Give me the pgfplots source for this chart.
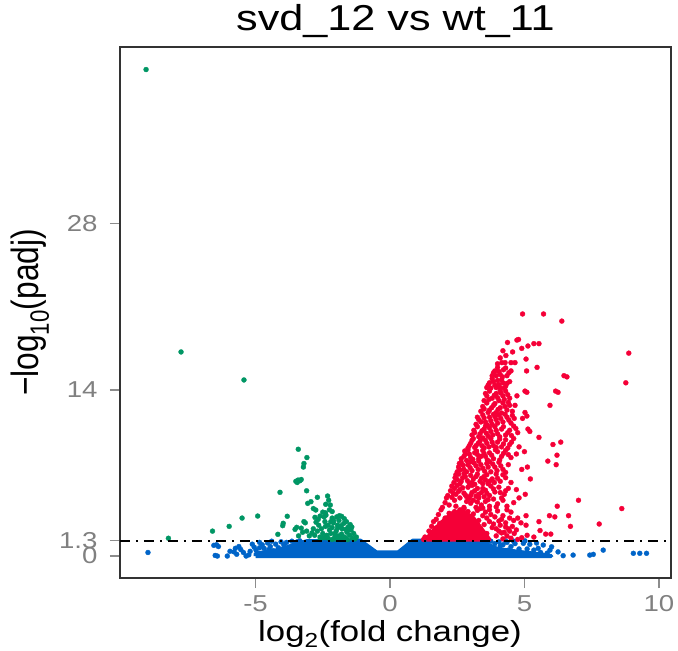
\documentclass[border=0pt]{standalone}
\usepackage{pgfplots}
\pgfplotsset{compat=1.18}
\usepackage{fontspec}
\setmainfont{Liberation Sans}
\newfontfamily\wide[FakeStretch=1.2]{Liberation Sans}
\newfontfamily\narrow[FakeStretch=0.833]{Liberation Sans}
\definecolor{upred}{RGB}{245,0,55}
\definecolor{dngreen}{RGB}{0,150,100}
\definecolor{nsblue}{RGB}{0,100,200}
\pgfplotsset{pt/.style={only marks, color=#1, mark=*, mark size=2.5pt, mark options={solid, draw=#1, fill=#1, line width=0.3pt}}}
\begin{document}
\begin{tikzpicture}
\path[use as bounding box] (-120pt,-73pt) rectangle (558pt,578pt);
\begin{axis}[
 scale only axis, width=551pt, height=531pt,
 xmin=-10.04, xmax=10.45, ymin=-1.85, ymax=42.9,
 xtick={-5,0,5,10},
 ytick={0,1.3,14,28},
 xticklabels={-5,0,5,10},
 yticklabels={0,1.3,14,28},
 /pgf/number format/assume math mode=true,
 tick align=outside, tick pos=left,
 major tick length=10pt,
 every tick/.style={black!45, line width=1.4pt},
 axis line style={black!80, line width=1.6pt},
 tick label style={font=\wide\fontsize{23}{23}\selectfont, text=black!50},
 xticklabel style={yshift=-4pt},
 yticklabel style={xshift=-9pt},
 title={svd\_12 vs wt\_11},
 title style={font=\wide\fontsize{36}{36}\selectfont, at={(axis description cs:0.5,1.019)}, anchor=base},
 xlabel={log\textsubscript{2}(fold change)},
 xlabel style={font=\wide\fontsize{29}{29}\selectfont, at={(axis description cs:0.49,-0.1205)}, anchor=base},
 ylabel={−log\textsubscript{10}(padj)},
 ylabel style={font=\narrow\fontsize{38}{38}\selectfont, at={(axis description cs:-0.163,0.5)}, anchor=center},
 clip marker paths=true,
]
% blue dense core (not significant)
\addplot[draw=nsblue, fill=nsblue, line width=4pt, line join=round] coordinates {
(-5.0,0) (6.0,0) (5.6,0.15) (4.8,0.35) (4.0,0.6) (3.6,1.0) (3.1,1.3) (0.85,1.3) (0.3,0.3) (-0.5,0.3) (-1.1,1.3) (-3.1,1.25) (-3.6,0.9) (-4.2,0.5) (-5.0,0.2) (-5.0,0)};
\addplot[pt=nsblue] coordinates {
(-9.0,0.3) (-6.55,0.9) (-6.45,0.95) (-6.38,0.8) (-6.5,0.05) (-6.42,0.0) (-5.95,0.4) (-5.75,0.65) (-5.62,0.8) (-5.55,0.55) (-5.35,0.0) (-5.25,0.1) (-5.12,1.0) (-5.05,0.75) (-4.98,0.5) (-4.75,0.95) (-4.68,0.65) (-4.55,1.1) (-4.45,0.8) (-4.35,0.45) (-4.25,1.0) (-4.15,0.7) (-4.05,1.2) (-3.95,0.95) (-3.85,1.15) (-3.75,0.75) (-3.65,1.25) (-3.55,1.05) (-3.45,1.2) (-3.35,1.28) (-3.25,1.1) (-4.6,0.3) (-4.9,0.1) (-5.7,0.15)
(-4.85,0.7) (-4.5,0.55) (-4.3,0.2) (-4.0,0.4) (-3.8,0.45) (-5.2,0.4) (-4.85,1.15) (-4.4,1.25) (-3.9,0.2) (-5.45,0.3) (-6.05,0.0) (-5.8,0.35)
(3.3,1.2) (3.45,1.25) (3.6,1.15) (3.75,1.25) (3.9,1.05) (4.05,1.2) (4.2,0.95) (4.35,1.15) (4.5,0.8) (4.65,1.05) (4.8,0.6) (4.96,1.07) (5.02,1.28) (5.2,0.99) (5.35,0.5) (5.51,0.65) (5.7,0.93) (5.95,0.5) (6.01,0.78) (6.44,0.03) (6.81,0.08) (7.43,0.08) (7.56,0.14) (7.93,0.5) (9.05,0.23) (9.29,0.23) (9.54,0.23) (4.4,0.5) (4.7,0.3) (5.1,0.6) (5.6,0.3) (4.1,0.85) (3.85,0.7)
(3.5,0.6) (3.7,0.4) (4.0,0.45) (4.25,0.35) (4.55,0.15) (4.9,0.2) (5.25,0.15) (5.45,1.1) (5.85,0.25) (6.25,0.35) (4.6,1.25) (4.3,1.28)
(10.5,0.3) (10.5,0.7) (10.5,1.0) (-10.1,0.2) (-10.1,0.6) (-10.1,1.0)};
% green (down-regulated)
\addplot[pt=dngreen] coordinates {
(-9.07,41.0) (-7.77,17.2) (-5.43,14.84) (-8.24,1.5) (-6.6,2.1) (-5.98,2.5) (-5.5,3.2) (-4.92,3.37) (-4.09,5.37)
(-3.41,9.0) (-3.09,8.3) (-3.2,7.8) (-3.22,7.5) (-3.5,6.3) (-3.42,6.4) (-3.35,6.35) (-3.45,6.2) (-3.3,6.45) (-3.1,5.5)
(-2.7,4.95) (-2.32,5.06) (-2.28,4.7) (-3.06,4.44) (-2.94,4.58) (-2.39,4.36) (-2.22,4.3) (-2.85,4.0) (-2.76,3.88)
(-2.5,3.7) (-2.4,3.65) (-2.15,3.75) (-2.25,3.9) (-2.79,3.26) (-2.67,3.09) (-2.6,3.37) (-2.45,3.3) (-2.42,2.9) (-2.38,3.45)
(-1.98,3.3) (-1.88,3.4) (-2.2,2.9) (-2.1,3.0) (-3.82,3.35) (-3.97,2.76) (-3.99,2.56) (-3.2,2.9) (-3.15,2.8) (-3.53,2.25)
(-3.47,2.42) (-4.17,1.83) (-3.4,1.7) (-3.0,1.7) (-2.8,1.75) (-2.6,1.6) (-3.25,2.0) (-3.1,2.1)
(-2.3,1.5) (-2.2,1.9) (-2.15,2.4) (-2.05,1.6) (-2.0,2.1) (-1.95,2.6) (-1.9,3.0) (-1.85,1.45) (-1.8,1.85) (-1.78,2.3)
(-1.72,2.75) (-1.65,1.55) (-1.6,2.0) (-1.55,2.45) (-1.5,1.75) (-1.45,2.2) (-1.4,1.5) (-1.35,1.9) (-1.3,1.45) (-1.7,3.15)
(-1.62,2.9) (-2.1,2.8) (-2.25,2.2) (-2.4,2.5) (-2.5,1.9) (-2.55,2.3) (-2.7,2.1) (-2.45,1.55) (-1.9,1.7) (-1.7,1.4)
(-2.15,1.4) (-2.6,1.4) (-2.35,1.75) (-1.58,1.38) (-1.48,2.65) (-1.82,2.55) (-2.0,1.42) (-1.25,1.6)
(-2.05,1.9) (-1.75,1.65) (-1.55,2.2) (-1.95,2.35) (-2.3,2.6) (-2.15,3.2) (-1.8,3.35) (-2.65,2.6) (-2.85,2.3) (-2.9,1.95) (-3.3,2.35) (-2.75,2.85) (-1.42,2.45) (-1.65,2.25)
(-10.1,23.7) (-10.1,21.9) (-10.1,20.1) (-10.1,6.8) (-10.1,5.3) (-10.1,3.2)};
% red dense core (up-regulated)
\addplot[draw=upred, fill=upred, line width=4pt, line join=round] coordinates {
(1.35,1.38) (3.7,1.38) (3.4,2.3) (3.1,3.2) (2.7,3.8) (2.3,3.6) (1.9,2.8) (1.55,2.0) (1.35,1.38)};
\addplot[pt=upred] coordinates {
(4.2,1.45) (4.35,1.7) (4.5,1.5) (4.62,1.9) (4.75,1.4) (4.9,1.55) (5.1,1.75) (5.35,1.6) (5.58,2.15) (5.79,1.85) (5.98,1.85) (1.25,1.4) (1.3,1.6) (4.25,2.0) (4.4,2.3) (4.15,1.95)
(1.45,2.1) (1.55,2.5) (1.62,2.9) (3.95,2.3) (4.1,2.6) (4.3,2.8) (4.05,2.95) (4.55,2.5) (4.7,2.2) (4.87,2.8) (5.06,2.6) (5.54,2.9) (6.71,2.5) (7.78,2.7) (3.85,2.7) (4.45,2.1)
(1.72,3.1) (1.8,3.5) (1.9,3.9) (3.6,3.2) (3.75,3.5) (3.9,3.3) (4.0,3.8) (4.2,3.4) (4.35,3.9) (4.5,3.7) (4.15,3.1) (3.7,3.9) (5.06,3.4) (5.93,3.4) (6.13,3.3) (6.64,3.4) (8.62,4.0) (4.75,3.2)
(3.6,1.9) (3.8,2.4) (3.5,2.65) (3.3,3.0) (3.45,3.4) (3.1,3.55) (2.9,3.75) (2.6,3.9) (2.4,3.75) (2.2,3.6) (2.05,3.2) (1.85,2.75) (1.7,2.35) (1.5,1.75) (3.95,1.7) (4.05,2.1) (3.25,3.85) (2.75,4.0) (3.55,3.7) (3.35,4.0) (2.0,2.7) (3.7,2.9) (4.3,2.45) (4.45,3.2) (4.6,3.0)
(1.95,4.1) (2.05,4.5) (2.1,4.9) (3.2,4.1) (3.4,4.3) (3.55,4.6) (3.7,4.2) (3.85,4.8) (4.0,4.4) (4.2,4.7) (4.35,4.2) (3.1,4.7) (2.6,4.9) (2.85,4.6) (4.6,4.5) (6.22,4.2) (7.01,4.7) (4.8,4.9) (3.3,4.9) (2.4,4.7)
(2.2,4.3) (2.45,4.2) (2.75,4.1) (3.0,4.45) (3.25,4.55) (3.45,4.05) (3.65,4.75) (3.95,4.15) (4.15,4.9) (2.3,4.95) (2.95,4.85)
(2.15,5.1) (2.25,5.5) (2.3,5.9) (2.45,5.2) (2.6,5.6) (2.75,5.3) (2.9,5.8) (3.0,5.1) (3.15,5.5) (3.3,5.2) (3.45,5.7) (3.6,5.3) (3.75,5.9) (3.9,5.4) (4.05,5.8) (4.25,5.2) (2.5,5.95) (3.05,5.95) (5.03,5.2) (4.7,5.6) (3.5,5.0) (2.85,5.0) (4.4,5.7)
(2.35,5.3) (2.55,5.45) (2.7,5.75) (2.8,5.15) (3.05,5.35) (3.25,5.7) (3.4,5.35) (3.55,5.55) (3.7,5.1) (3.85,5.65) (4.1,5.35) (4.3,5.5) (2.4,5.7) (3.2,5.05)
(2.38,6.2) (2.42,6.6) (2.55,6.9) (2.65,6.3) (2.8,6.7) (2.95,6.1) (3.1,6.5) (3.25,6.9) (3.35,6.3) (3.5,6.7) (3.65,6.1) (3.8,6.5) (3.95,6.9) (4.1,6.3) (4.3,6.6) (2.75,6.95) (3.0,6.8) (3.55,6.4) (5.22,6.5) (4.5,6.2)
(2.5,6.45) (2.6,6.1) (2.7,6.6) (2.88,6.35) (3.05,6.2) (3.2,6.7) (3.4,6.55) (3.45,6.1) (3.6,6.85) (3.7,6.3) (3.88,6.2) (4.0,6.55) (4.2,6.85) (2.45,6.85) (3.15,6.05)
(2.5,7.1) (2.55,7.5) (2.65,7.9) (2.75,7.3) (2.9,7.7) (3.05,7.2) (3.2,7.6) (3.3,8.0) (3.45,7.4) (3.6,7.8) (3.75,7.1) (3.9,7.5) (4.05,7.9) (4.2,7.3) (4.4,7.7) (3.0,7.95) (3.7,7.95) (5.11,7.5) (4.9,7.3) (5.87,8.0) (6.18,7.7)
(2.6,7.25) (2.72,7.65) (2.85,7.1) (2.98,7.45) (3.12,7.85) (3.28,7.3) (3.38,7.7) (3.52,7.15) (3.65,7.5) (3.82,7.75) (3.98,7.2) (4.12,7.6) (4.3,7.05) (2.58,7.8)
(2.65,8.2) (2.8,8.6) (2.9,8.95) (3.0,8.3) (3.15,8.7) (3.3,8.2) (3.45,8.9) (3.55,8.4) (3.7,8.7) (3.85,8.2) (4.0,8.8) (4.15,8.4) (4.3,8.9) (4.5,8.3) (3.25,8.55) (6.21,8.5) (5.0,8.8) (4.7,8.6)
(2.75,8.4) (2.85,8.05) (2.95,8.6) (3.08,8.15) (3.22,8.85) (3.38,8.4) (3.5,8.65) (3.62,8.1) (3.78,8.5) (3.92,8.95) (4.08,8.1) (4.22,8.65) (4.4,8.55) (2.78,8.85)
(2.9,9.1) (3.0,9.5) (3.1,9.9) (3.2,9.3) (3.35,9.7) (3.5,9.1) (3.6,9.5) (3.75,9.9) (3.85,9.3) (4.0,9.6) (4.15,9.2) (4.3,9.8) (4.45,9.4) (4.6,9.9) (6.06,9.4) (6.35,9.6) (5.54,10.0) (3.45,9.95) (4.8,9.2)
(2.95,9.3) (3.05,9.75) (3.15,9.15) (3.28,9.5) (3.42,9.3) (3.55,9.75) (3.68,9.2) (3.8,9.6) (3.95,9.15) (4.08,9.85) (4.22,9.45) (4.38,9.1) (4.52,9.6)
(3.05,10.2) (3.12,10.6) (3.25,10.9) (3.35,10.3) (3.5,10.7) (3.65,10.1) (3.75,10.5) (3.9,10.9) (4.0,10.3) (4.15,10.7) (4.3,10.2) (4.45,10.6) (4.6,10.95) (4.75,10.4) (5.2,10.5) (5.13,10.7) (3.55,10.95)
(3.15,10.4) (3.3,10.05) (3.42,10.55) (3.58,10.35) (3.7,10.8) (3.82,10.2) (3.95,10.6) (4.08,10.05) (4.22,10.9) (4.38,10.4) (4.52,10.15) (4.68,10.75)
(3.2,11.1) (3.3,11.5) (3.45,11.9) (3.55,11.3) (3.7,11.7) (3.8,11.1) (3.95,11.5) (4.05,11.9) (4.2,11.3) (4.35,11.7) (4.5,11.2) (4.62,11.6) (4.93,11.6) (5.09,11.8) (3.85,11.95)
(3.25,11.7) (3.38,11.3) (3.5,11.65) (3.62,11.05) (3.75,11.4) (3.9,11.75) (4.0,11.2) (4.12,11.6) (4.28,11.95) (4.42,11.45) (4.55,11.85)
(3.38,12.2) (3.45,12.6) (3.6,12.9) (3.7,12.3) (3.85,12.7) (3.95,12.1) (4.1,12.5) (4.2,12.9) (4.35,12.3) (4.45,12.7) (4.65,12.7) (5.02,12.1) (5.95,12.7) (4.55,12.2)
(3.5,12.4) (3.65,12.1) (3.78,12.5) (3.9,12.85) (4.02,12.35) (4.15,12.05) (4.28,12.6) (4.4,12.95)
(3.5,13.1) (3.6,13.5) (3.7,13.9) (3.8,13.3) (3.95,13.7) (4.05,13.1) (4.2,13.5) (4.3,13.9) (4.45,13.3) (4.72,13.5) (5.02,13.9) (5.09,13.8) (6.16,13.9) (6.25,13.8) (4.1,13.95)
(3.55,13.7) (3.68,13.2) (3.88,13.55) (4.0,13.35) (4.12,13.75) (4.25,13.2) (4.38,13.6)
(3.6,14.2) (3.7,14.6) (3.8,14.95) (3.9,14.4) (4.0,14.8) (4.1,14.2) (4.2,14.6) (4.3,14.3) (4.45,14.7) (4.05,14.45)
(3.65,14.4) (3.75,14.15) (3.85,14.7) (3.95,14.2) (4.15,14.85) (4.25,14.15) (4.35,14.55)
(3.8,15.2) (3.9,15.6) (4.0,15.9) (4.1,15.3) (4.22,15.7) (4.35,15.2) (4.5,15.6) (5.08,15.6) (5.47,15.9) (6.47,15.2) (6.58,15.1)
(3.85,15.45) (3.95,15.2) (4.05,15.55) (4.18,15.1) (4.3,15.85) (4.42,15.45)
(4.0,16.2) (4.16,16.3) (4.28,16.3) (4.5,16.3) (4.65,16.3) (4.1,16.7) (4.31,16.9) (5.06,16.6) (4.56,17.2)
(4.37,18.0) (4.72,18.2) (4.78,18.25) (5.13,17.7) (4.9,17.5) (5.35,17.9) (5.54,17.9) (4.2,17.3)
(4.93,20.4) (5.71,20.4) (6.39,19.8) (8.88,17.1) (8.77,14.6)
(10.5,16.5) (10.5,11.7) (10.5,11.2) (10.5,9.9) (10.5,9.7) (10.5,8.7) (10.5,6.7) (10.5,6.1) (10.5,5.6) (10.5,4.5) (10.5,3.5) (10.5,3.0) (10.5,2.6) (10.5,2.2) (10.5,1.8) (10.5,1.45)};
% threshold line
\addplot[black, line width=1.8pt, dash pattern=on 10pt off 6pt on 2pt off 6pt] coordinates {(-10.04,1.3) (10.45,1.3)};
\end{axis}
\end{tikzpicture}
\end{document}
